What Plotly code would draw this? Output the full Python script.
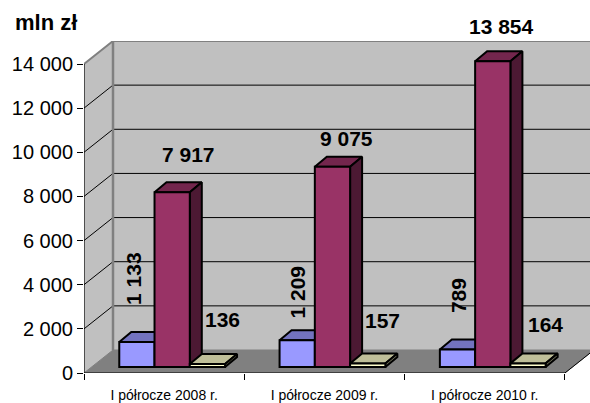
import plotly.graph_objects as go

categories = ["I półrocze 2008 r.", "I półrocze 2009 r.", "I półrocze 2010 r."]
series_a = [1133, 1209, 789]
series_b = [7917, 9075, 13854]
series_c = [136, 157, 164]
y_ticks = [0, 2000, 4000, 6000, 8000, 10000, 12000, 14000]
y_labels = ["0", "2 000", "4 000", "6 000", "8 000", "10 000", "12 000", "14 000"]
labels_a = ["1 133", "1 209", "789"]
labels_b = ["7 917", "9 075", "13 854"]
labels_c = ["136", "157", "164"]

# scale / projection settings
W, H = 590, 403
L, T, B = 84, 41, 373
CAT_PX = 160.3
VAL_PX = 309 / 14000
XMAX = (W - L) / CAT_PX
YMAX = (B - T) / VAL_PX
WALL_DX = 29 / CAT_PX
WALL_DY = 23 / VAL_PX
BAR_DX = 12 / CAT_PX
BAR_DY = 10 / VAL_PX
BASE = 6 / VAL_PX
BAR_W = 0.22
FONT = "Liberation Sans"
TOP = 14000

fig = go.Figure()


def poly(xs, ys, fill=None, line="black", lw=1, z=0):
    fig.add_trace(go.Scatter(
        x=xs, y=ys, mode="lines", fill="toself" if fill else "none",
        fillcolor=fill, line=dict(color=line, width=lw), hoverinfo="skip",
        showlegend=False, zorder=z))


# walls and floor
poly([WALL_DX, XMAX + 1, XMAX + 1, WALL_DX, WALL_DX],
     [WALL_DY, WALL_DY, TOP + WALL_DY, TOP + WALL_DY, WALL_DY], "#C0C0C0", "#C0C0C0")
poly([0, WALL_DX, WALL_DX, 0, 0], [0, WALL_DY, TOP + WALL_DY, TOP, 0], "#C0C0C0", "#C0C0C0")
poly([0, 3, 3 + WALL_DX, WALL_DX, 0], [0, 0, WALL_DY, WALL_DY, 0], "#808080", "#808080")
# gridlines
for v in y_ticks[1:-1]:
    poly([0, WALL_DX, XMAX + 1], [v, v + WALL_DY, v + WALL_DY], None, "black", 1)
# wall edges
poly([0, WALL_DX, XMAX + 1], [TOP, TOP + WALL_DY, TOP + WALL_DY], None, "#808080", 2)
poly([WALL_DX, WALL_DX], [WALL_DY, TOP + WALL_DY], None, "#808080", 2.5)
poly([3, 3 + WALL_DX], [0, WALL_DY], None, "black", 1)
poly([0, 3], [0, 0], None, "black", 1.2)
poly([0, 0], [0, TOP], None, "black", 1.2)


series = [
    ("Seria A", series_a, 0.33, "#9999FF", "#7373BF", "#4C4C80"),
    ("Seria B", series_b, 0.55, "#993366", "#73264D", "#4C1933"),
    ("Seria C", series_c, 0.77, "#FFFFCC", "#BFBF99", "#808066"),
]
z = 1
for name, vals, off, front, top, side in series:
    for i, v in enumerate(vals):
        xl = i + off - BAR_W / 2
        xr = i + off + BAR_W / 2
        yb = BASE
        yt = BASE + v
        poly([xl, xl + BAR_DX, xr + BAR_DX, xr, xl],
             [yt, yt + BAR_DY, yt + BAR_DY, yt, yt], top, "black", 2, z)
        poly([xr, xr + BAR_DX, xr + BAR_DX, xr, xr],
             [yb, yb + BAR_DY, yt + BAR_DY, yt, yb], side, "black", 2, z)
    fig.add_trace(go.Bar(
        x=[i + off for i in range(len(vals))], y=vals, base=BASE, width=BAR_W, name=name,
        marker=dict(color=front, line=dict(color="black", width=2)),
        showlegend=False, zorder=z + 1))
    z += 2

# data labels: (x shift, y shift in px from top-centre of the bar front, rotation)
annos = []
label_sets = [
    (series_a, labels_a, 0.33, [(-3, 64), (0, 48), (1, 54)], -90),
    (series_b, labels_b, 0.55, [(16, 38), (14, 28), (9, 35)], 0),
    (series_c, labels_c, 0.77, [(15, 45), (15, 43), (17, 39)], 0),
]
for vals, texts, off, shifts, rot in label_sets:
    for i, (v, t, (dx, dy)) in enumerate(zip(vals, texts, shifts)):
        annos.append(dict(x=i + off, y=BASE + v, xref="x", yref="y", text=f"<b>{t}</b>",
                          showarrow=False, xshift=dx, yshift=dy, textangle=rot,
                          xanchor="center", yanchor="middle",
                          font=dict(family=FONT, size=21, color="black")))
annos.append(dict(x=(46 - L) / (W - L), y=(B - 23) / (B - T), xref="paper", yref="paper",
                  text="<b>mln zł</b>", showarrow=False, xanchor="center", yanchor="middle",
                  font=dict(family=FONT, size=22, color="black")))

fig.update_layout(
    width=W, height=H, margin=dict(l=L, r=0, t=T, b=H - B, pad=0),
    paper_bgcolor="white", plot_bgcolor="white", barmode="overlay", showlegend=False,
    font=dict(family=FONT, color="black"), annotations=annos,
    xaxis=dict(range=[0, XMAX], showgrid=False, zeroline=False, showline=False,
               tickvals=[0.5, 1.5, 2.5], ticktext=categories, ticks="", ticklabelstandoff=12,
               tickfont=dict(family=FONT, size=14, color="black"),
               minor=dict(tickvals=[0, 1, 2, 3], ticks="outside", ticklen=6, tickwidth=1,
                          tickcolor="black", showgrid=False)),
    yaxis=dict(range=[0, YMAX], showgrid=False, zeroline=False, showline=False,
               tickvals=y_ticks, ticktext=y_labels, ticks="outside", ticklen=6, tickwidth=1,
               tickcolor="black", tickfont=dict(family=FONT, size=20, color="black")),
)
fig.write_html("out.html", config={"displayModeBar": False},
               post_script="document.body.style.margin='0';document.body.style.overflow='hidden';")
